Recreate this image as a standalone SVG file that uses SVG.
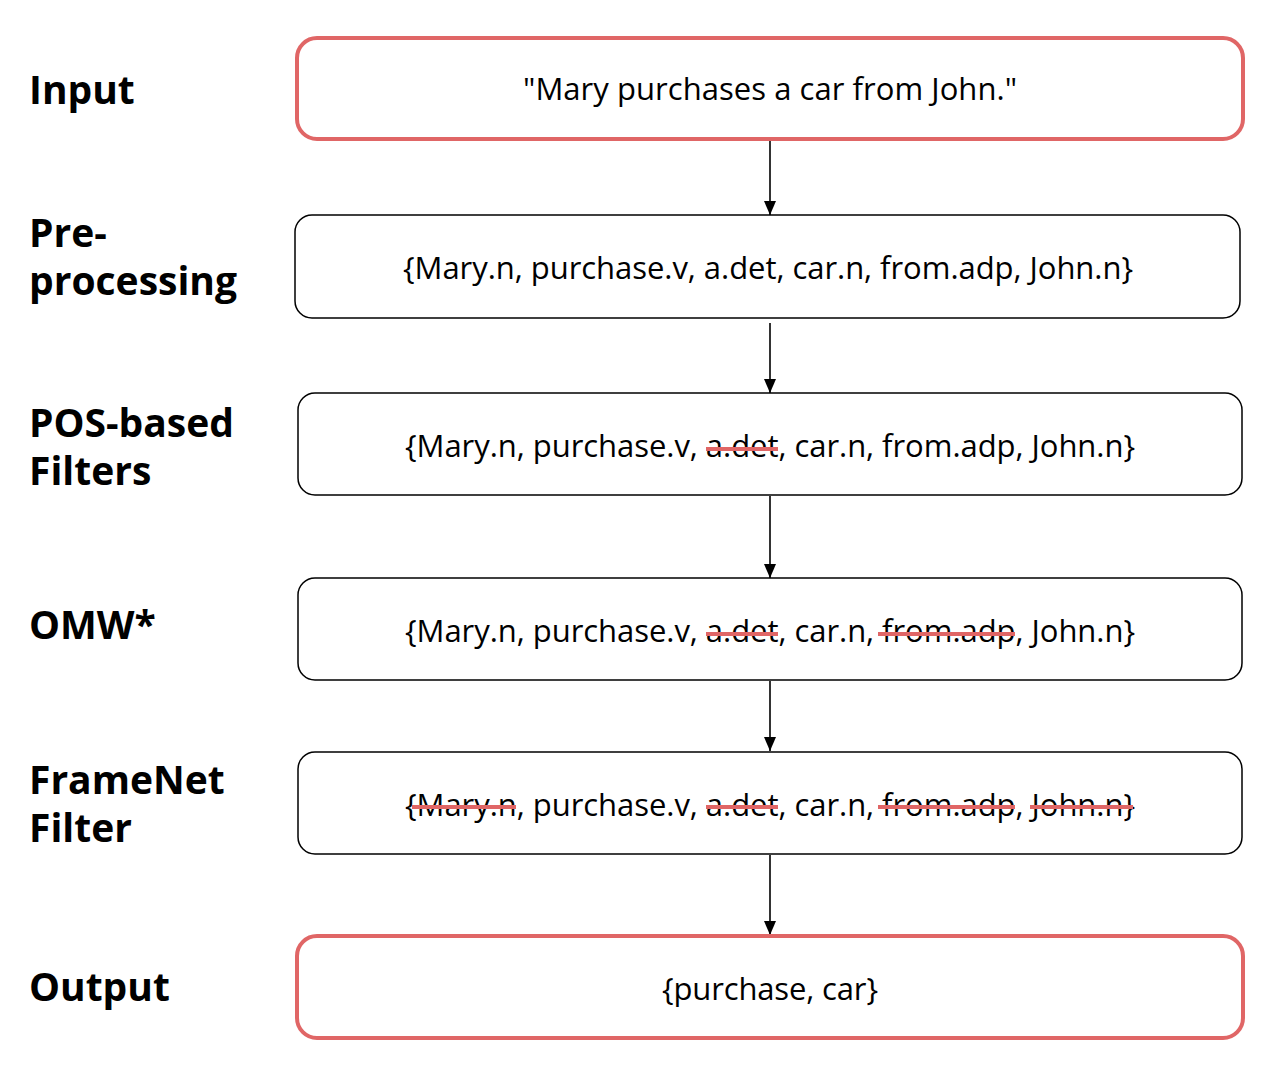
<svg xmlns="http://www.w3.org/2000/svg" width="1282" height="1072" viewBox="0 0 1282 1072">
<style>
.lbl{font-family:"Open Sans",sans-serif;font-weight:bold;font-size:39px;fill:#000}
.txt{font-family:"Open Sans",sans-serif;font-size:31px;fill:#000;text-anchor:middle}
.box{fill:#fff;stroke:#000;stroke-width:1.5}
.hl{fill:#fff;stroke:#e06666;stroke-width:4}
.conn{stroke:#000;stroke-width:1.6;fill:none}
.strike{stroke:#e06666;stroke-width:4;stroke-linecap:butt}
</style>
<defs>
<marker id="arr" viewBox="0 0 14 12" refX="14" refY="6" markerWidth="14" markerHeight="12" markerUnits="userSpaceOnUse" orient="auto">
<path d="M0,0 L14,6 L0,12 z" fill="#000"/>
</marker>
</defs>
<rect width="1282" height="1072" fill="#fff"/>
<g id="labels">
<text class="lbl" x="29" y="104">Input</text>
<text class="lbl" x="29" y="247">Pre-</text>
<text class="lbl" x="29" y="295">processing</text>
<text class="lbl" x="29" y="437">POS-based</text>
<text class="lbl" x="29" y="485">Filters</text>
<text class="lbl" x="29" y="639">OMW*</text>
<text class="lbl" x="29" y="794">FrameNet</text>
<text class="lbl" x="29" y="842">Filter</text>
<text class="lbl" x="29" y="1001">Output</text>
</g>
<g id="connectors">
<line class="conn" x1="770" y1="140" x2="770" y2="215" marker-end="url(#arr)"/>
<line class="conn" x1="770" y1="323" x2="770" y2="393" marker-end="url(#arr)"/>
<line class="conn" x1="770" y1="496" x2="770" y2="578" marker-end="url(#arr)"/>
<line class="conn" x1="770" y1="681" x2="770" y2="751" marker-end="url(#arr)"/>
<line class="conn" x1="770" y1="855" x2="770" y2="935" marker-end="url(#arr)"/>
</g>
<g id="input">
<rect class="hl" x="297" y="38" width="946" height="101" rx="20"/>
<text class="txt" x="770" y="100" textLength="494" lengthAdjust="spacing">"Mary purchases a car from John."</text>
</g>
<g id="preprocessing">
<rect class="box" x="295" y="215" width="945" height="103" rx="17"/>
<text class="txt" x="768" y="279" textLength="730" lengthAdjust="spacing">{Mary.n, purchase.v, a.det, car.n, from.adp, John.n}</text>
</g>
<g id="pos">
<rect class="box" x="298" y="393" width="944" height="102" rx="17"/>
<text class="txt" x="770" y="456.5" textLength="730" lengthAdjust="spacing">{Mary.n, purchase.v, a.det, car.n, from.adp, John.n}</text>
<line class="strike" x1="706" y1="449" x2="778" y2="449"/>
</g>
<g id="omw">
<rect class="box" x="298" y="578" width="944" height="102" rx="17"/>
<text class="txt" x="770" y="641.5" textLength="730" lengthAdjust="spacing">{Mary.n, purchase.v, a.det, car.n, from.adp, John.n}</text>
<line class="strike" x1="706" y1="634" x2="778" y2="634"/>
<line class="strike" x1="878" y1="634" x2="1015" y2="634"/>
</g>
<g id="framenet">
<rect class="box" x="298" y="752" width="944" height="102" rx="17"/>
<text class="txt" x="770" y="815.5" textLength="730" lengthAdjust="spacing">{Mary.n, purchase.v, a.det, car.n, from.adp, John.n}</text>
<line class="strike" x1="412" y1="807" x2="516" y2="807"/>
<line class="strike" x1="706" y1="807" x2="778" y2="807"/>
<line class="strike" x1="878" y1="807" x2="1015" y2="807"/>
<line class="strike" x1="1030" y1="807" x2="1133" y2="807"/>
</g>
<g id="output">
<rect class="hl" x="297" y="936" width="946" height="102" rx="20"/>
<text class="txt" x="770" y="999.5" textLength="216" lengthAdjust="spacing">{purchase, car}</text>
</g>
</svg>
